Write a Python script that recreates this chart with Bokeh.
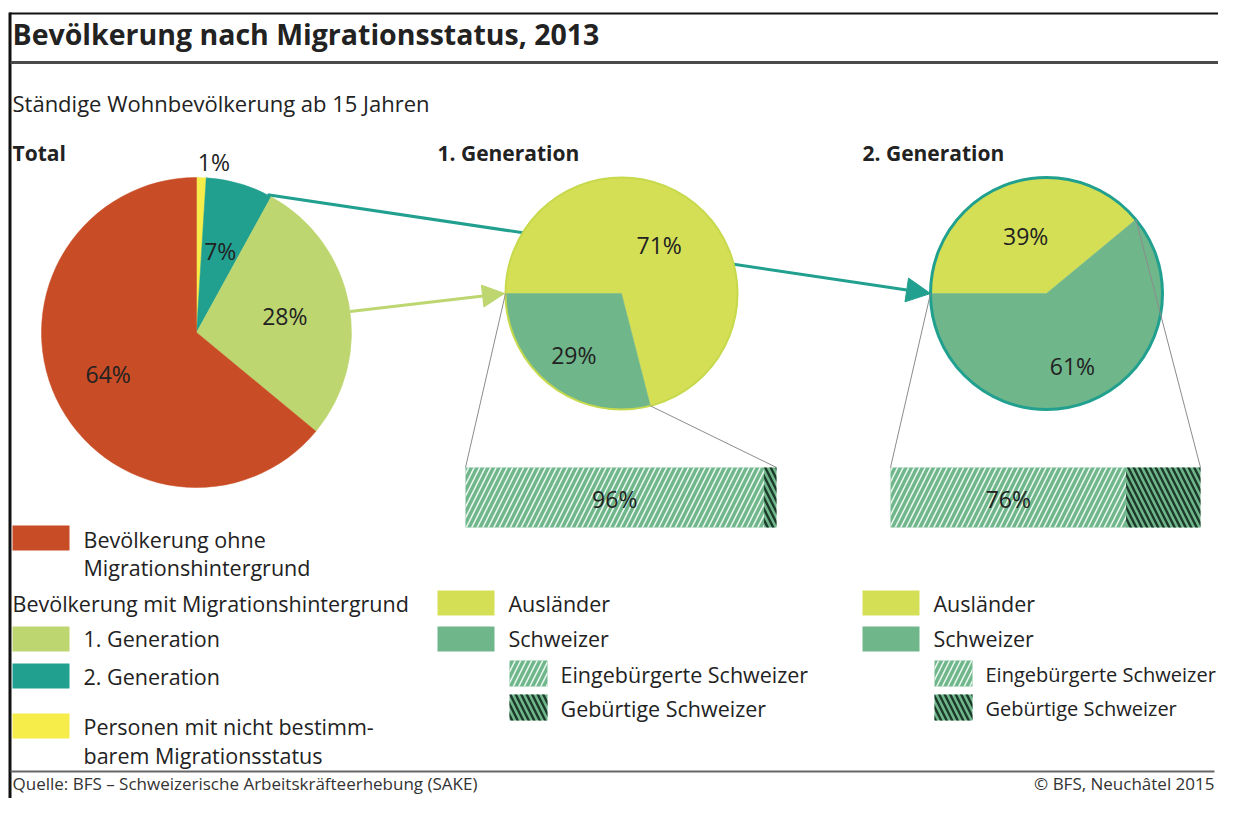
import math
from bokeh.plotting import figure
from bokeh.models import Range1d, Arrow, NormalHead
from bokeh.core.properties import value
from bokeh.embed import file_html
from bokeh.resources import INLINE

# ---------------- data ----------------
total_categories = ["Personen mit nicht bestimmbarem Migrationsstatus", "2. Generation",
                    "1. Generation", "Bevölkerung ohne Migrationshintergrund"]
total_values = [1, 7, 28, 64]

gen_categories = ["Ausländer", "Schweizer"]
gen1_values = [71, 29]
gen2_values = [39, 61]

swiss_categories = ["Eingebürgerte Schweizer", "Gebürtige Schweizer"]
gen1_swiss = [96, 4]
gen2_swiss = [76, 24]

# ---------------- styles ----------------
C_OHNE = "#c84c25"
C_GEN1 = "#bdd670"
C_GEN2 = "#21a08f"
C_UNK = "#f6ec4a"
C_AUSL = "#d5df55"
C_CH = "#6fb68b"
C_HATCH_DARK = "#1c3a2a"
C_HATCH_LIGHT = "#e9f6ee"
total_colors = [C_UNK, C_GEN2, C_GEN1, C_OHNE]
gen_colors = [C_AUSL, C_CH]
TXT = "#222222"
FONT = value("Open Sans")

W, H = 1218, 798


def X(x):
    return x


def Y(y):
    return H - y


p = figure(width=W, height=H, output_backend="svg", toolbar_location=None,
           x_range=Range1d(0, W), y_range=Range1d(0, H), min_border=0)
p.axis.visible = False
p.grid.visible = False
p.outline_line_color = None
p.background_fill_color = "white"


def text(x, y, s, size, bold=False, align="left", color=TXT):
    p.text(x=[X(x)], y=[Y(y)], text=[s], text_font=FONT, text_font_size=f"{size}px",
           text_font_style="bold" if bold else "normal", text_align=align,
           text_baseline="middle", text_color=color)


def pt(cx, cy, r, theta):
    t = math.radians(theta)
    return cx + r * math.sin(t), cy - r * math.cos(t)


def pie(cx, cy, r, values, colors, start, fracs, offsets):
    cum = start
    bounds = []
    for v, c, f, off, in zip(values, colors, fracs, offsets):
        th1, th2 = cum, cum + v * 3.6
        p.wedge(x=[X(cx)], y=[Y(cy)], radius=r, radius_units="screen",
                start_angle=math.radians(90 - th2), end_angle=math.radians(90 - th1),
                fill_color=c, line_color=c, line_width=0.5)
        mid = (th1 + th2) / 2
        lx, ly = pt(cx, cy, r * f, mid)
        bounds.append((th1, th2, lx + off[0], ly + off[1], v))
        cum = th2
    return bounds


# ---------------- arrows (under the pies) ----------------
TCX, TCY, TR = 196, 332, 155
G1X, G1Y, GR = 621, 293, 116
G2X, G2Y = 1046, 293

cum = [0]
for v in total_values:
    cum.append(cum[-1] + v * 3.6)
teal_start = pt(TCX, TCY, TR, cum[2] - 1.5)
green_start = pt(TCX, TCY, TR, (cum[2] + cum[3]) / 2 + 3)

a1 = Arrow(x_start=X(teal_start[0]), y_start=Y(teal_start[1]), x_end=X(G2X - GR), y_end=Y(G2Y),
           line_color=C_GEN2, line_width=3, level="underlay",
           end=NormalHead(size=24, fill_color=C_GEN2, line_color=C_GEN2, line_width=1))
a2 = Arrow(x_start=X(green_start[0]), y_start=Y(green_start[1]), x_end=X(G1X - GR - 1), y_end=Y(G1Y),
           line_color=C_GEN1, line_width=3, level="underlay",
           end=NormalHead(size=22, fill_color=C_GEN1, line_color=C_GEN1, line_width=1))
p.add_layout(a1)
p.add_layout(a2)

# ---------------- pies ----------------
tb = pie(TCX, TCY, TR, total_values, total_colors, 0,
         [1.1, 0.55, 0.58, 0.63], [(12, 0), (0, 0), (0, 0), (0, 0)])
g1 = pie(G1X, G1Y, GR, gen1_values, gen_colors, 270, [0.53, 0.67], [(0, 0), (0, 0)])
g2 = pie(G2X, G2Y, GR, gen2_values, gen_colors, 270, [0.53, 0.66], [(0, 0), (0, 0)])
p.circle(x=[X(G1X)], y=[Y(G1Y)], radius=GR, radius_units="screen", fill_color=None,
         line_color="#c6d94c", line_width=2)
p.circle(x=[X(G2X)], y=[Y(G2Y)], radius=GR, radius_units="screen", fill_color=None,
         line_color=C_GEN2, line_width=3)

PL = 23
for b in tb + g1 + g2:
    text(b[2], b[3], f"{b[4]}%", PL, align="center")

# ---------------- hatched bars ----------------
BAR_T, BAR_B = 467, 527


def light_quad(l, r, t, b):
    p.quad(left=X(l), right=X(r), bottom=Y(b), top=Y(t),
           fill_color=C_CH, line_color=None, hatch_pattern="/",
           hatch_color=C_HATCH_LIGHT, hatch_scale=11, hatch_weight=1.6)


def dark_quad(l, r, t, b):
    p.quad(left=X(l), right=X(r), bottom=Y(b), top=Y(t),
           fill_color=C_CH, line_color=None, hatch_pattern="\\",
           hatch_color=C_HATCH_DARK, hatch_scale=11, hatch_weight=2.4)


def hbar(x0, x1, parts, pie_pts):
    w = x1 - x0
    left = x0
    for i, v in enumerate(parts):
        right = left + w * v / 100
        if i == 0:
            light_quad(left, right, BAR_T, BAR_B)
            text((left + right) / 2, (BAR_T + BAR_B) / 2 + 1, f"{v}%", PL, align="center")
        else:
            dark_quad(left, right, BAR_T, BAR_B)
        left = right
    (ax, ay), (bx, by) = pie_pts
    p.segment(x0=[X(ax), X(bx)], y0=[Y(ay), Y(by)], x1=[X(x0), X(x1)], y1=[Y(BAR_T), Y(BAR_T)],
              line_color="#8c8c8c", line_width=1)


hbar(465, 776, gen1_swiss, [pt(G1X, G1Y, GR, 270), pt(G1X, G1Y, GR, g1[1][0])])
hbar(890, 1200, gen2_swiss, [pt(G2X, G2Y, GR, 270), pt(G2X, G2Y, GR, g2[1][0] - 360)])

# ---------------- frame & titles ----------------
p.segment(x0=[X(9)], y0=[Y(13)], x1=[X(1240)], y1=[Y(13)], line_color="#111111", line_width=2)
p.segment(x0=[X(9.5)], y0=[Y(12)], x1=[X(9.5)], y1=[Y(820)], line_color="#111111", line_width=3)
p.segment(x0=[X(10)], y0=[Y(62)], x1=[X(1228)], y1=[Y(62)], line_color="#4a4a4a", line_width=3)
p.segment(x0=[X(10)], y0=[Y(771)], x1=[X(1214)], y1=[Y(771)], line_color="#666666", line_width=2)

text(12, 33, "Bevölkerung nach Migrationsstatus, 2013", 28.5, bold=True)
text(12, 102, "Ständige Wohnbevölkerung ab 15 Jahren", 22)
text(12, 152, "Total", 21, bold=True)
text(437, 152, "1. Generation", 21, bold=True)
text(862, 152, "2. Generation", 21, bold=True)
text(12, 783, "Quelle: BFS – Schweizerische Arbeitskräfteerhebung (SAKE)", 17, color="#333333")
text(1214, 783, "© BFS, Neuchâtel 2015", 17, align="right", color="#333333")

# ---------------- legends ----------------
LS = 21.5


def swatch(x0, y0, w, h, color, hatch=None):
    if hatch is None:
        p.quad(left=X(x0), right=X(x0 + w), bottom=Y(y0 + h), top=Y(y0),
               fill_color=color, line_color=None)
    elif hatch == "light":
        light_quad(x0, x0 + w, y0, y0 + h)
    else:
        dark_quad(x0, x0 + w, y0, y0 + h)


# left legend
swatch(12, 525, 57, 25, C_OHNE)
text(83, 539, "Bevölkerung ohne", LS)
text(83, 567, "Migrationshintergrund", LS)
text(12, 603, "Bevölkerung mit Migrationshintergrund", LS)
swatch(12, 626, 57, 25, C_GEN1)
text(83, 638, total_categories[2], LS)
swatch(12, 663, 57, 25, C_GEN2)
text(83, 676, total_categories[1], LS)
swatch(12, 713, 57, 25, C_UNK)
text(83, 726, "Personen mit nicht bestimm-", LS)
text(83, 755, "barem Migrationsstatus", LS)

# middle and right legends
for lx, sub in ((437, LS), (862, 20)):
    swatch(lx, 590, 57, 25, C_AUSL)
    text(lx + 71, 603, gen_categories[0], LS)
    swatch(lx, 626, 57, 25, C_CH)
    text(lx + 71, 638, gen_categories[1], LS)
    swatch(lx + 72, 660, 38, 26, None, "light")
    text(lx + 123, 674, swiss_categories[0], sub)
    swatch(lx + 72, 694, 38, 26, None, "dark")
    text(lx + 123, 708, swiss_categories[1], sub)

open("out.html", "w").write(file_html(p, INLINE))
